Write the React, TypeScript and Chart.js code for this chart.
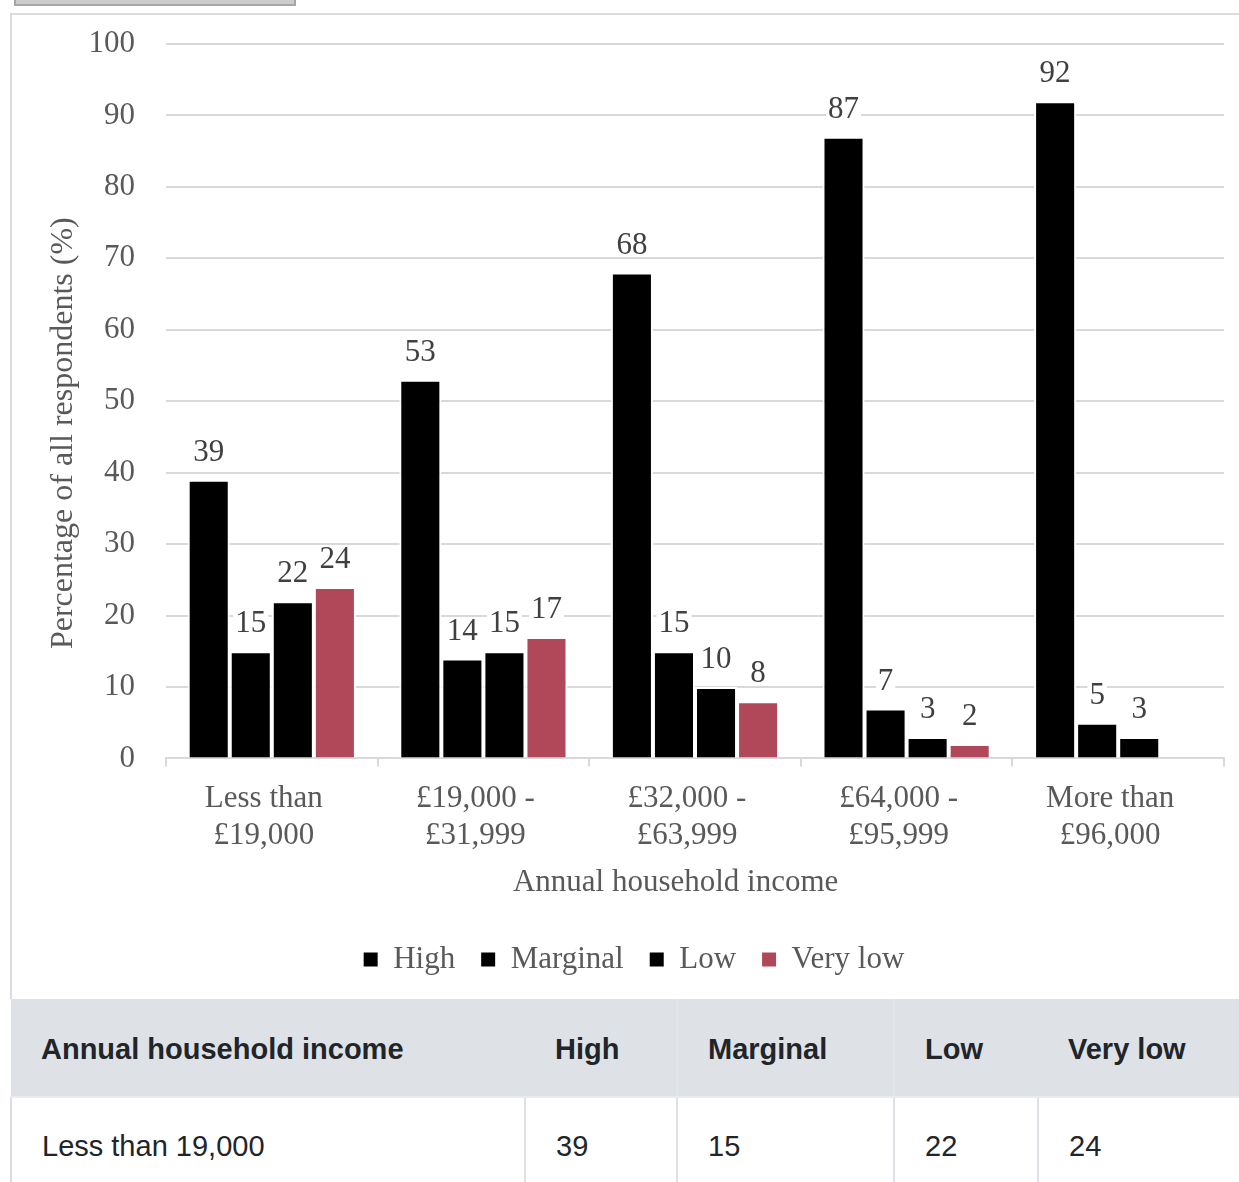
import React, { useEffect, useRef } from "react";
import { Chart, registerables } from "chart.js";

Chart.register(...registerables);

const categories: string[][] = [
  ["Less than", "£19,000"],
  ["£19,000 -", "£31,999"],
  ["£32,000 -", "£63,999"],
  ["£64,000 -", "£95,999"],
  ["More than", "£96,000"],
];
const seriesNames = ["High", "Marginal", "Low", "Very low"];
const highValues: (number | null)[] = [39, 53, 68, 87, 92];
const marginalValues: (number | null)[] = [15, 14, 15, 7, 5];
const lowValues: (number | null)[] = [22, 15, 10, 3, 3];
const veryLowValues: (number | null)[] = [24, 17, 8, 2, null];
const seriesColors = ["#000000", "#000000", "#000000", "#b0485a"];

const xTitle = "Annual household income";
const yTitle = "Percentage of all respondents (%)";

const tableHeaders = ["Annual household income", "High", "Marginal", "Low", "Very low"];
const tableRows: string[][] = [["Less than 19,000", "39", "15", "22", "24"]];

const SERIF = '"Liberation Serif", "Times New Roman", serif';
const FS = 31;
const NB = "\u00a0";

const valueLabels = {
  id: "valueLabels",
  afterDatasetsDraw(chart: any) {
    const ctx = chart.ctx;
    ctx.save();
    ctx.font = `${FS}px ${SERIF}`;
    ctx.textAlign = "center";
    ctx.textBaseline = "middle";
    chart.data.datasets.forEach((ds: any, i: number) => {
      const meta = chart.getDatasetMeta(i);
      meta.data.forEach((bar: any, j: number) => {
        const v = ds.data[j];
        if (v == null) return;
        const text = String(v);
        const w = ctx.measureText(text).width;
        const cy = bar.y - 27;
        ctx.fillStyle = "#ffffff";
        ctx.fillRect(bar.x - w / 2 - 2, cy - 14, w + 4, 25);
        ctx.fillStyle = "#404040";
        ctx.fillText(text, bar.x, cy);
      });
    });
    ctx.restore();
  },
};

export default function App() {
  const ref = useRef<HTMLCanvasElement | null>(null);
  useEffect(() => {
    if (!ref.current) return;
    const allData = [highValues, marginalValues, lowValues, veryLowValues];
    const chart = new Chart(ref.current, {
      type: "bar",
      data: {
        labels: categories,
        datasets: seriesNames.map((name, i) => ({
          label: name,
          data: allData[i],
          backgroundColor: seriesColors[i],
          borderColor: "#ffffff",
          borderWidth: 2,
          borderSkipped: "start",
          barPercentage: 1,
          categoryPercentage: 0.795,
        })),
      },
      options: {
        responsive: false,
        animation: false,
        devicePixelRatio: 1,
        layout: { padding: { left: 32, right: 36, top: 29, bottom: 14 } },
        plugins: {
          tooltip: { enabled: false },
          legend: {
            position: "bottom",
            labels: {
              font: { family: SERIF, size: FS },
              color: "#595959",
              boxWidth: 14,
              boxHeight: 14,
              padding: 26,
              generateLabels: (c: any) =>
                Chart.defaults.plugins.legend.labels.generateLabels(c).map((l: any) => ({
                  ...l,
                  lineWidth: 0,
                  strokeStyle: l.fillStyle,
                })),
            },
          },
        },
        scales: {
          x: {
            grid: {
              display: true,
              drawOnChartArea: false,
              drawTicks: true,
              tickLength: 8,
              color: "#d9d9d9",
              lineWidth: 2,
            },
            border: { display: true, color: "#d9d9d9", width: 2 },
            ticks: {
              font: { family: SERIF, size: FS, lineHeight: 1.2 },
              color: "#595959",
              padding: 14,
              maxRotation: 0,
              labelOffset: -8,
            },
            title: {
              display: true,
              text: xTitle + NB.repeat(5),
              font: { family: SERIF, size: FS, lineHeight: 1.2 },
              color: "#595959",
              padding: { top: -5, bottom: 17 },
            },
          },
          y: {
            min: 0,
            max: 100,
            afterFit: (scale: any) => {
              scale.width = 122;
            },
            ticks: {
              stepSize: 10,
              font: { family: SERIF, size: FS },
              color: "#595959",
              padding: 0,
            },
            grid: {
              color: "#d9d9d9",
              lineWidth: 2,
              drawTicks: true,
              tickLength: 31,
              tickColor: "rgba(0,0,0,0)",
            },
            border: { display: false },
            title: {
              display: true,
              text: yTitle + NB.repeat(8),
              font: { family: SERIF, size: 32, lineHeight: 1.2 },
              color: "#595959",
              padding: { top: 0, bottom: 7 },
            },
          },
        },
      },
      plugins: [valueLabels],
    } as any);
    return () => chart.destroy();
  }, []);

  const colWidths = [514, 152, 217, 144, 273];
  const cellBase: React.CSSProperties = {
    fontFamily: '"Liberation Sans", Arial, sans-serif',
    fontSize: 29,
    color: "#212529",
    textAlign: "left",
    padding: "0 0 0 30px",
    height: 98,
    boxSizing: "border-box",
    verticalAlign: "middle",
  };

  return (
    <div style={{ position: "absolute", left: 0, top: 0, width: 1239, height: 1182, overflow: "hidden", background: "#fff" }}>
      <div
        style={{
          position: "absolute",
          left: 14,
          top: -30,
          width: 282,
          height: 36,
          background: "#cccccc",
          border: "2px solid #a6a6a6",
          boxSizing: "border-box",
        }}
      />
      <div
        style={{
          position: "absolute",
          left: 10,
          top: 13,
          width: 1300,
          height: 986,
          borderTop: "2px solid #dcdcdc",
          borderLeft: "2px solid #dcdcdc",
          boxSizing: "border-box",
        }}
      />
      <canvas
        ref={ref}
        width={1248}
        height={984}
        style={{ position: "absolute", left: 12, top: 15, width: 1248, height: 984 }}
      />
      <table
        style={{
          position: "absolute",
          left: 10,
          top: 999,
          width: colWidths.reduce((a, b) => a + b, 0),
          borderCollapse: "collapse",
          tableLayout: "fixed",
        }}
      >
        <colgroup>
          {colWidths.map((w, i) => (
            <col key={i} style={{ width: w }} />
          ))}
        </colgroup>
        <thead>
          <tr style={{ background: "#dee2e6" }}>
            {tableHeaders.map((h, i) => (
              <th
                key={i}
                style={{
                  ...cellBase,
                  paddingTop: 4,
                  fontWeight: "bold",
                  borderLeft: i === 2 || i === 3 ? "2px solid #e4e7ea" : "none",
                  borderBottom: "2px solid #e9ecef",
                }}
              >
                {h}
              </th>
            ))}
          </tr>
        </thead>
        <tbody>
          {tableRows.map((row, r) => (
            <tr key={r}>
              {row.map((c, i) => (
                <td
                  key={i}
                  style={{
                    ...cellBase,
                    borderLeft: i > 0 ? "2px solid #dee2e6" : "2px solid #dcdcdc",
                  }}
                >
                  {c}
                </td>
              ))}
            </tr>
          ))}
        </tbody>
      </table>
    </div>
  );
}
